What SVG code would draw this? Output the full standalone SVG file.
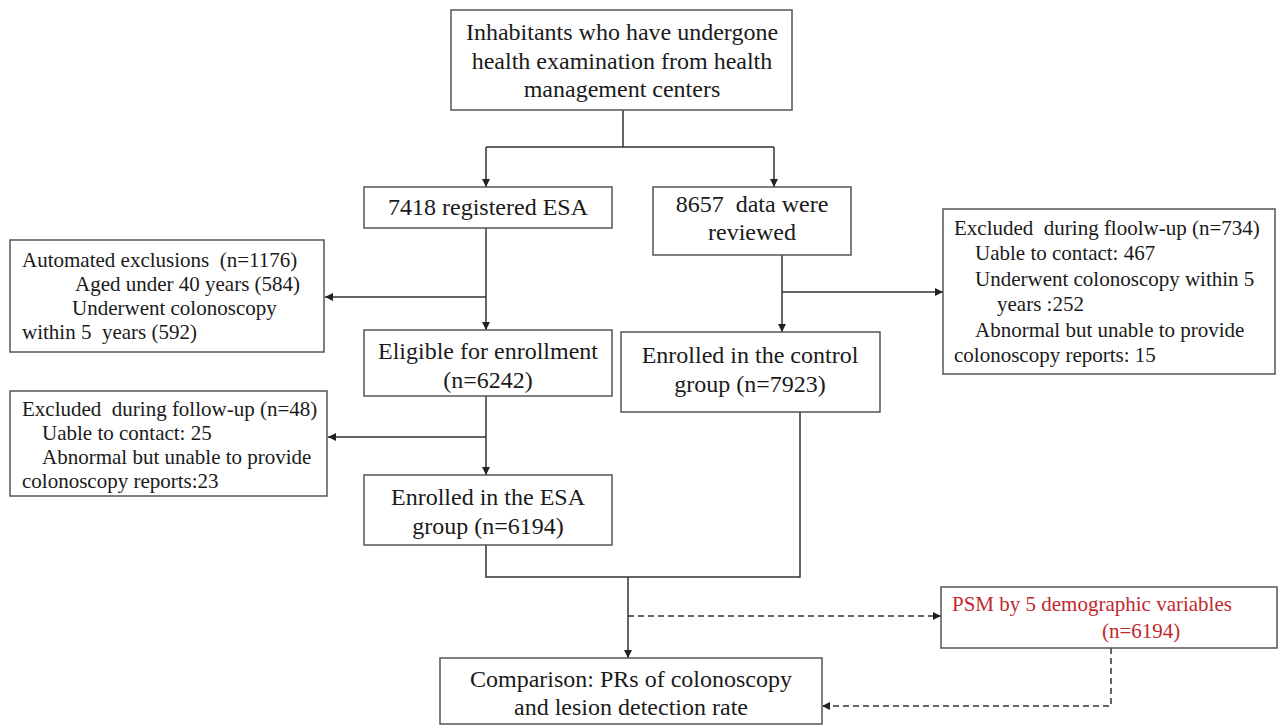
<svg xmlns="http://www.w3.org/2000/svg" width="1278" height="726" viewBox="0 0 1278 726">
<defs>
<marker id="ah" viewBox="0 0 10 10" refX="10" refY="5" markerWidth="8" markerHeight="8" markerUnits="userSpaceOnUse" orient="auto">
<path d="M0,0 L10,5 L0,10 z" fill="#222"/>
</marker>
<style>
.box{fill:#fff;stroke:#555;stroke-width:1.5}
.t{font-family:"Liberation Serif","Times New Roman",serif;font-size:24px;fill:#1a1a1a;text-anchor:middle}
.s{font-family:"Liberation Serif","Times New Roman",serif;font-size:21px;fill:#1a1a1a;white-space:pre}
.r{fill:#c0282e}
.ln{fill:none;stroke:#333;stroke-width:1.5}
.dl{fill:none;stroke:#333;stroke-width:1.5;stroke-dasharray:6,4}
</style>
</defs>
<rect width="1278" height="726" fill="#fff"/>
<g id="connectors">
<path class="ln" d="M623,110 V147 M486,147 H774"/>
<path class="ln" d="M486,147 V187" marker-end="url(#ah)"/>
<path class="ln" d="M774,147 V187" marker-end="url(#ah)"/>
<path class="ln" d="M486,228 V330" marker-end="url(#ah)"/>
<path class="ln" d="M486,297 H325" marker-end="url(#ah)"/>
<path class="ln" d="M486,396 V475" marker-end="url(#ah)"/>
<path class="ln" d="M486,437 H328" marker-end="url(#ah)"/>
<path class="ln" d="M486,545 V577 H800 V412"/>
<path class="ln" d="M782,255 V332" marker-end="url(#ah)"/>
<path class="ln" d="M782,292 H943" marker-end="url(#ah)"/>
<path class="ln" d="M628,577 V658" marker-end="url(#ah)"/>
<path class="dl" d="M628,616 H941" marker-end="url(#ah)"/>
<path class="dl" d="M1111,648 V706 H822" marker-end="url(#ah)"/>
</g>
<g id="n_top">
<rect class="box" x="451" y="10" width="341" height="100"/>
<text class="t" x="622" y="40">Inhabitants who have undergone</text>
<text class="t" x="622" y="69">health examination from health</text>
<text class="t" x="622" y="97">management centers</text>
</g>
<g id="n_esa">
<rect class="box" x="364" y="187" width="248" height="41"/>
<text class="t" x="488" y="215">7418 registered ESA</text>
</g>
<g id="n_data">
<rect class="box" x="653" y="187" width="198" height="68"/>
<text class="t" x="752" y="212" xml:space="preserve">8657  data were</text>
<text class="t" x="752" y="240">reviewed</text>
</g>
<g id="n_auto">
<rect class="box" x="10" y="240" width="314" height="112"/>
<text class="s" x="22" y="267" xml:space="preserve">Automated exclusions  (n=1176)</text>
<text class="s" x="75" y="291">Aged under 40 years (584)</text>
<text class="s" x="72" y="315">Underwent colonoscopy</text>
<text class="s" x="22" y="339" xml:space="preserve">within 5  years (592)</text>
</g>
<g id="n_eligible">
<rect class="box" x="364" y="330" width="248" height="66"/>
<text class="t" x="488" y="359">Eligible for enrollment</text>
<text class="t" x="488" y="388">(n=6242)</text>
</g>
<g id="n_excl48">
<rect class="box" x="10" y="391" width="317" height="105"/>
<text class="s" x="22" y="416" xml:space="preserve">Excluded  during follow-up (n=48)</text>
<text class="s" x="42" y="440">Uable to contact: 25</text>
<text class="s" x="42" y="464">Abnormal but unable to provide</text>
<text class="s" x="22" y="488">colonoscopy reports:23</text>
</g>
<g id="n_enrolled_esa">
<rect class="box" x="364" y="475" width="248" height="70"/>
<text class="t" x="488" y="505">Enrolled in the ESA</text>
<text class="t" x="488" y="534">group (n=6194)</text>
</g>
<g id="n_control">
<rect class="box" x="621" y="332" width="259" height="80"/>
<text class="t" x="750" y="363">Enrolled in the control</text>
<text class="t" x="750" y="392">group (n=7923)</text>
</g>
<g id="n_excl734">
<rect class="box" x="943" y="209" width="332" height="165"/>
<text class="s" x="954" y="235" xml:space="preserve">Excluded  during floolw-up (n=734)</text>
<text class="s" x="975" y="260">Uable to contact: 467</text>
<text class="s" x="975" y="286">Underwent colonoscopy within 5</text>
<text class="s" x="997" y="311">years :252</text>
<text class="s" x="975" y="337">Abnormal but unable to provide</text>
<text class="s" x="954" y="362">colonoscopy reports: 15</text>
</g>
<g id="n_psm">
<rect class="box" x="941" y="587" width="336" height="61"/>
<text class="s r" x="952" y="611">PSM by 5 demographic variables</text>
<text class="s r" x="1102" y="638">(n=6194)</text>
</g>
<g id="n_compare">
<rect class="box" x="440" y="658" width="382" height="66"/>
<text class="t" x="631" y="687">Comparison: PRs of colonoscopy</text>
<text class="t" x="631" y="715">and lesion detection rate</text>
</g>
</svg>
